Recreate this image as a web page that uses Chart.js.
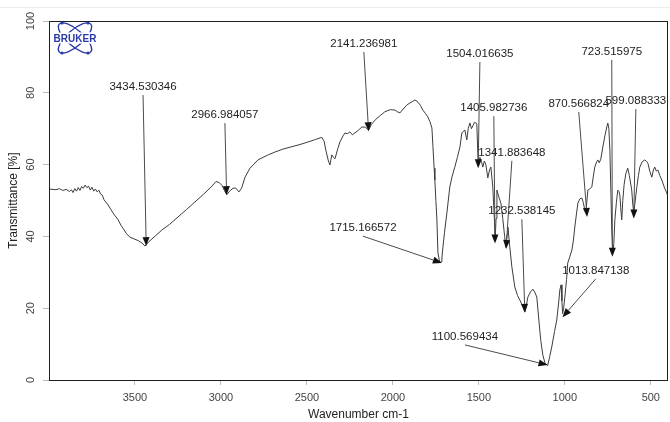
<!DOCTYPE html>
<html>
<head>
<meta charset="utf-8">
<script src="https://cdn.jsdelivr.net/npm/chart.js@4/dist/chart.umd.min.js"></script>
<style>
  html, body { margin: 0; padding: 0; background: #fff; }
  #wrap { width: 670px; height: 422px; }
</style>
</head>
<body>
<div id="wrap"><canvas id="chart" width="670" height="422"></canvas></div>
<script>
// spectrum (wavenumber cm-1 / transmittance %)
var wavenumbers = [
  4000, 3960, 3940, 3920, 3900, 3880, 3870, 3860, 3850, 3840, 3830, 3820, 3810, 3800, 3790, 3780,
  3770, 3760, 3750, 3740, 3730, 3720, 3710, 3700, 3690, 3680, 3660, 3640, 3620, 3600, 3580, 3570,
  3550, 3530, 3500, 3480, 3460, 3442, 3420, 3380, 3343, 3300, 3250, 3200, 3151, 3100, 3052, 3029,
  3010, 2994, 2980, 2966, 2950, 2930, 2915, 2895, 2880, 2860, 2831, 2785, 2730, 2686, 2640, 2587,
  2540, 2494, 2450, 2413, 2400, 2390, 2375, 2366, 2360, 2355, 2345, 2337, 2320, 2308, 2290, 2279,
  2265, 2250, 2235, 2221, 2200, 2180, 2160, 2141, 2125, 2100, 2070, 2047, 2015, 1988, 1970, 1959,
  1940, 1919, 1900, 1885, 1872, 1860, 1855, 1840, 1826, 1810, 1797, 1785, 1773, 1767, 1760, 1756,
  1750, 1744, 1738, 1727, 1720, 1715, 1709, 1700, 1686, 1669, 1655, 1640, 1625, 1610, 1599, 1590,
  1581, 1575, 1570, 1562, 1552, 1543, 1535, 1525, 1512, 1504, 1494, 1483, 1477, 1468, 1459, 1448,
  1438, 1430, 1419, 1410, 1405, 1400, 1395, 1384, 1372, 1361, 1350, 1343, 1336, 1331, 1320, 1308,
  1291, 1275, 1262, 1245, 1232, 1225, 1215, 1200, 1186, 1175, 1163, 1151, 1140, 1128, 1116, 1100,
  1088, 1076, 1060, 1047, 1035, 1029, 1022, 1017, 1013, 1007, 1000, 990, 983, 970, 959, 950,
  942, 933, 924, 912, 901, 893, 884, 875, 866, 855, 843, 835, 826, 815, 808, 800,
  791, 779, 767, 756, 750, 744, 738, 732, 727, 721, 715, 709, 700, 692, 685, 680,
  675, 669, 663, 655, 645, 634, 625, 611, 605, 599, 593, 581, 572, 564, 550, 535,
  525, 517, 505, 494, 485, 477, 468, 459, 448, 436, 420, 407, 400
];
var transmittance = [
  53.2, 53.0, 53.3, 52.8, 53.1, 52.5, 53.0, 52.2, 53.3, 52.6, 53.6, 52.8, 53.9, 53.4, 54.3, 53.6,
  54.0, 52.9, 53.7, 52.6, 53.2, 52.4, 52.9, 51.8, 51.5, 50.2, 49.0, 47.5, 46.0, 44.8, 43.0, 42.3,
  40.8, 39.8, 39.2, 38.8, 38.2, 37.3, 38.5, 40.2, 41.8, 43.3, 45.4, 47.5, 49.6, 51.8, 54.0, 55.3,
  55.0, 54.2, 52.8, 51.6, 52.6, 53.4, 53.5, 52.4, 53.4, 56.5, 59.0, 61.3, 62.6, 63.5, 64.3, 65.0,
  65.6, 66.3, 67.0, 67.6, 66.5, 64.0, 61.0, 59.9, 61.5, 62.7, 62.0, 61.6, 64.5, 66.3, 68.0, 68.8,
  68.6, 69.1, 68.3, 68.8, 69.6, 70.5, 70.4, 69.6, 71.2, 72.6, 73.8, 74.7, 75.3, 75.2, 74.6, 74.4,
  75.5, 76.6, 77.2, 77.6, 78.0, 77.7, 77.4, 76.5, 75.2, 74.2, 73.3, 72.0, 70.2, 65.0, 59.0, 55.7,
  50.0, 44.6, 35.4, 32.6, 33.0, 34.0, 37.0, 41.0, 46.5, 53.8, 56.8, 59.3, 62.0, 64.9, 68.8, 69.3,
  69.6, 68.0, 66.9, 70.0, 71.6, 70.0, 70.8, 71.8, 71.4, 60.0, 62.0, 60.5, 59.3, 61.0, 59.9, 56.3,
  58.5, 59.3, 53.8, 45.0, 39.0, 45.0, 52.9, 51.0, 49.3, 45.0, 40.0, 37.0, 40.5, 42.6, 37.0, 31.5,
  25.9, 23.5, 22.3, 20.5, 19.0, 20.5, 23.1, 24.5, 25.3, 24.5, 23.1, 16.7, 11.0, 7.0, 4.8, 4.0,
  6.5, 9.2, 13.5, 16.7, 22.0, 25.1, 26.5, 22.0, 18.5, 20.0, 23.1, 28.0, 32.6, 34.5, 36.2, 39.0,
  42.6, 46.0, 49.3, 50.5, 50.7, 49.5, 47.4, 48.0, 52.9, 53.2, 53.8, 56.5, 59.3, 60.8, 61.3, 60.5,
  61.5, 64.9, 68.0, 70.5, 71.6, 70.0, 64.0, 52.0, 41.8, 35.4, 38.0, 44.6, 49.5, 52.9, 52.5, 51.5,
  48.0, 44.6, 50.0, 54.5, 57.5, 59.0, 57.0, 52.9, 49.0, 46.5, 49.0, 53.8, 57.0, 59.3, 60.8, 61.3,
  60.9, 60.4, 58.0, 56.5, 58.5, 59.3, 58.2, 58.5, 57.0, 55.7, 53.5, 52.1, 51.0
];

// picked peaks
var peakNames = [
  "3434.530346", "2966.984057", "2141.236981", "1715.166572", "1504.016635", "1405.982736",
  "1341.883648", "1232.538145", "1100.569434", "1013.847138", "870.566824", "723.515975", "599.088333"
];
var peakWavenumbers = [3434.530346, 2966.984057, 2141.236981, 1715.166572, 1504.016635, 1405.982736,
  1341.883648, 1232.538145, 1100.569434, 1013.847138, 870.566824, 723.515975, 599.088333];
var peakTips = [37.3, 51.5, 69.3, 32.6, 59, 38, 36.5, 18.7, 4.2, 17.5, 45.4, 34.3, 45];

// where each peak label sits (axis units)
var labelWavenumbers = [3453, 2977, 2169, 2174, 1494, 1413, 1308, 1250, 1581, 820, 919, 727, 587];
var labelValues = [81.6, 73.8, 93.6, 42.3, 90.8, 75.7, 63.3, 47, 12, 30.4, 76.9, 91.4, 77.7];

var xTicks = [3500, 3000, 2500, 2000, 1500, 1000, 500];
var yTicks = [0, 20, 40, 60, 80, 100];

var FONT = "'Liberation Sans', Arial, sans-serif";

var points = wavenumbers.map(function(w, i) { return {x: w, y: transmittance[i]}; });

var framePlugin = {
  id: 'frame',
  beforeDraw: function(chart) {
    var ctx = chart.ctx;
    ctx.save();
    ctx.strokeStyle = '#ececec';
    ctx.lineWidth = 1;
    ctx.beginPath();
    ctx.moveTo(0, 7.5);
    ctx.lineTo(670, 7.5);
    ctx.stroke();
    ctx.restore();
  },
  afterDraw: function(chart) {
    var ctx = chart.ctx, a = chart.chartArea, ys = chart.scales.y;
    ctx.save();
    ctx.strokeStyle = '#1e1e1e';
    ctx.lineWidth = 1;
    ctx.strokeRect(Math.round(a.left) + 0.5, Math.round(a.top) + 0.5,
      Math.round(a.right - a.left) - 1, Math.round(a.bottom - a.top));

    // y tick labels, turned like the original
    ctx.fillStyle = '#444';
    ctx.font = '11px ' + FONT;
    ctx.textAlign = 'center';
    ctx.textBaseline = 'middle';
    yTicks.forEach(function(v) {
      ctx.save();
      ctx.translate(31, ys.getPixelForValue(v));
      ctx.rotate(-Math.PI / 2);
      ctx.fillText(String(v), 0, 0);
      ctx.restore();
    });

    // bruker logo
    ctx.save();
    ctx.translate(75, 38);
    ctx.strokeStyle = '#2a3aa6';
    ctx.fillStyle = '#2a3aa6';
    ctx.lineWidth = 1.4;
    [0.72, -0.72].forEach(function(r) {
      ctx.beginPath();
      ctx.ellipse(0, 0, 21, 8, r, 0, Math.PI * 2);
      ctx.stroke();
    });
    [[-13, -15], [13, -15], [-13, 15], [13, 15]].forEach(function(p) {
      ctx.beginPath();
      ctx.arc(p[0], p[1], 1.6, 0, Math.PI * 2);
      ctx.fill();
    });
    ctx.font = 'bold 10px ' + FONT;
    ctx.textAlign = 'center';
    ctx.textBaseline = 'middle';
    ctx.lineWidth = 3;
    ctx.strokeStyle = '#fff';
    ctx.strokeText('BRUKER', 0, 1);
    ctx.fillText('BRUKER', 0, 1);
    ctx.restore();
    ctx.restore();
  }
};

var peakPlugin = {
  id: 'peaks',
  afterDatasetsDraw: function(chart) {
    var ctx = chart.ctx, xs = chart.scales.x, ys = chart.scales.y;
    ctx.save();
    ctx.font = '11.5px ' + FONT;
    ctx.textAlign = 'center';
    ctx.textBaseline = 'middle';
    peakNames.forEach(function(name, i) {
      var lx = xs.getPixelForValue(labelWavenumbers[i]);
      var ly = ys.getPixelForValue(labelValues[i]);
      var px = xs.getPixelForValue(peakWavenumbers[i]);
      var py = ys.getPixelForValue(peakTips[i]);
      var sx = lx, sy = ly + 8;
      var ang = Math.atan2(py - sy, px - sx);
      var len = 9, half = 3.5;
      var bx = px - Math.cos(ang) * len, by = py - Math.sin(ang) * len;

      ctx.strokeStyle = '#4a4a4a';
      ctx.lineWidth = 1;
      ctx.beginPath();
      ctx.moveTo(sx, sy);
      ctx.lineTo(bx, by);
      ctx.stroke();

      ctx.fillStyle = '#111';
      ctx.beginPath();
      ctx.moveTo(px, py);
      ctx.lineTo(bx - Math.sin(ang) * half, by + Math.cos(ang) * half);
      ctx.lineTo(bx + Math.sin(ang) * half, by - Math.cos(ang) * half);
      ctx.closePath();
      ctx.fill();

      ctx.fillStyle = '#222';
      ctx.fillText(name, lx, ly);
    });
    ctx.restore();
  }
};

var ctx = document.getElementById('chart').getContext('2d');
var chart = new Chart(ctx, {
  type: 'line',
  data: {
    datasets: [{
      data: points,
      borderColor: '#3c3c3c',
      borderWidth: 1,
      pointRadius: 0,
      tension: 0,
      fill: false
    }]
  },
  options: {
    responsive: false,
    animation: false,
    layout: { padding: { top: 21, right: 2, left: 0, bottom: 0 } },
    plugins: { legend: { display: false }, tooltip: { enabled: false } },
    scales: {
      x: {
        type: 'linear',
        reverse: true,
        min: 400,
        max: 4000,
        afterBuildTicks: function(scale) {
          scale.ticks = xTicks.map(function(v) { return {value: v}; });
        },
        afterFit: function(scale) { scale.height = 42; },
        ticks: {
          color: '#444',
          font: { size: 11, family: FONT },
          padding: 6,
          maxRotation: 0,
          autoSkip: false,
          callback: function(v) { return String(v); }
        },
        grid: { drawOnChartArea: false, drawTicks: true, tickLength: 5, color: '#bbb' },
        border: { display: false },
        title: {
          display: true,
          text: 'Wavenumber cm-1',
          color: '#222',
          font: { size: 12, family: FONT },
          padding: { top: 0, bottom: 0 }
        }
      },
      y: {
        min: 0,
        max: 100,
        afterBuildTicks: function(scale) {
          scale.ticks = yTicks.map(function(v) { return {value: v}; });
        },
        afterFit: function(scale) { scale.width = 49; },
        ticks: { display: false },
        grid: { drawOnChartArea: false, drawTicks: true, tickLength: 6, color: '#bbb' },
        border: { display: false },
        title: {
          display: true,
          text: 'Transmittance [%]',
          color: '#222',
          font: { size: 12, family: FONT },
          padding: { top: 6, bottom: 0 }
        }
      }
    }
  },
  plugins: [framePlugin, peakPlugin]
});
</script>
</body>
</html>
